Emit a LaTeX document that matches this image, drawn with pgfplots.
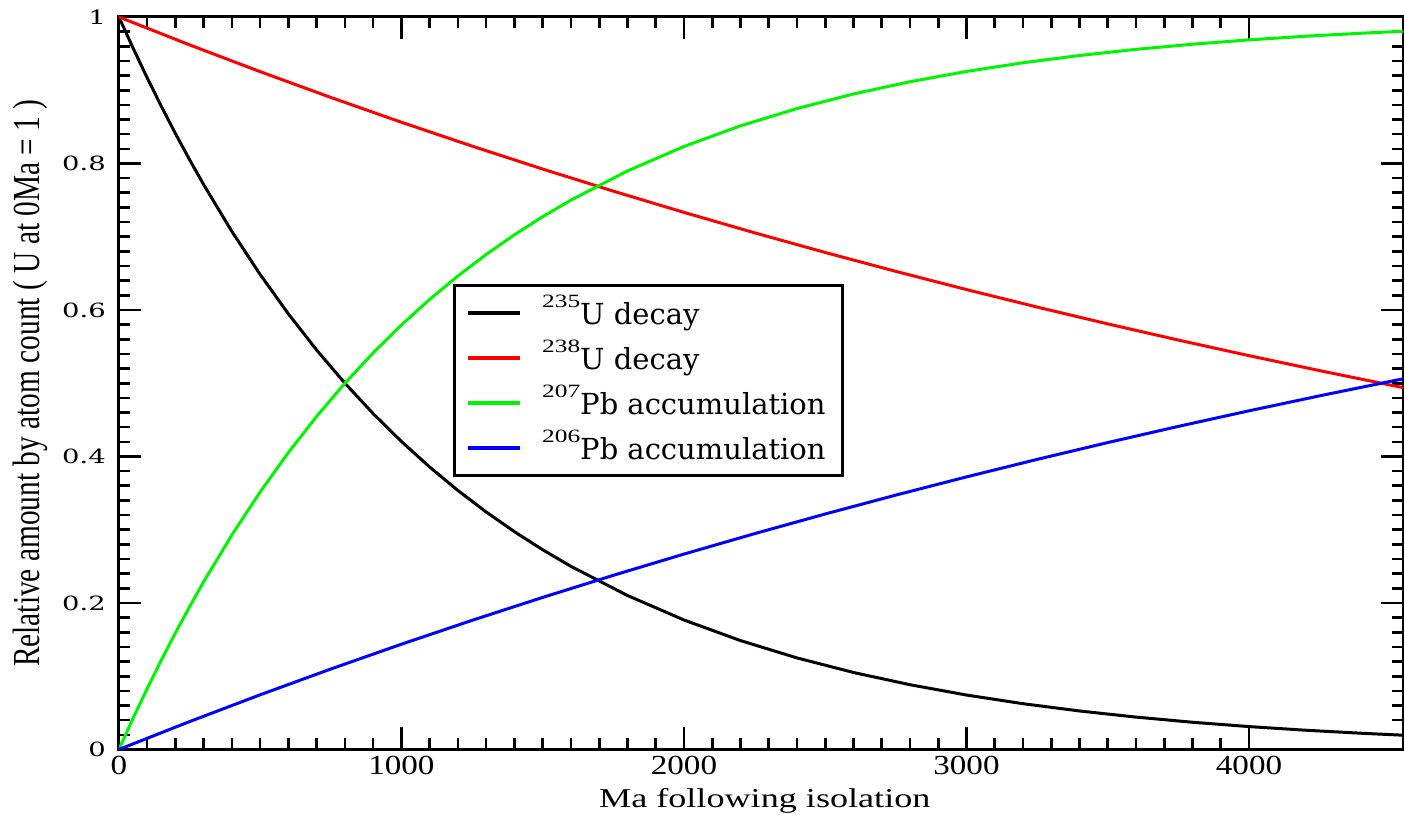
\documentclass[border=0pt]{standalone}
\usepackage{fontspec}
\usepackage{graphicx}
\usepackage{pgfplots}
\pgfplotsset{compat=1.18}
\setmainfont{Liberation Serif}
\newfontfamily\dvs{DejaVu Serif}
\newcommand\iso[1]{\raisebox{8.5pt}{\scalebox{1.35}[1]{\rmfamily\fontsize{9.4}{10}\selectfont #1}}}
\definecolor{cgreen}{RGB}{0,245,0}
\definecolor{cblue}{RGB}{0,0,255}
\definecolor{cred}{RGB}{255,0,0}
\begin{document}
\begin{tikzpicture}
\useasboundingbox (-59.5pt,-33pt) rectangle (643pt,375pt);
\begin{axis}[
  scale only axis, width=642.5pt, height=366.5pt,
  xmin=0, xmax=4545, ymin=0, ymax=1,
  axis line style={line width=1.5pt},
  tick align=inside,
  major tick length=11pt, minor tick length=5.5pt,
  every tick/.append style={black, line width=1.3pt},
  xtick={0,1000,2000,3000,4000}, minor x tick num=9,
  ytick={0,0.2,0.4,0.6,0.8,1}, minor y tick num=9,
  scaled ticks=false,
  /pgf/number format/assume math mode=true,
  /pgf/number format/1000 sep={},
  xticklabel={\scalebox{1.2}[1]{\fontsize{13.8}{14}\selectfont\pgfmathprintnumber{\tick}}},
  yticklabel={\scalebox{1.4}[1]{\dvs\fontsize{9.8}{10}\selectfont\pgfmathprintnumber{\tick}}},
  yticklabel style={xshift=-3pt},
  xlabel={\scalebox{1.33}[1]{\fontsize{13.6}{15}\selectfont Ma following isolation}},
  xlabel style={at={(axis description cs:0.503,-0.0698)}, anchor=center},
  ylabel={\scalebox{1}[1.3]{\fontsize{14.7}{16}\selectfont Relative amount by atom count ( U at 0Ma = 1 )}},
  ylabel style={at={(axis description cs:-0.0693,0.5)}, anchor=center},
  legend image code/.code={\draw[#1,line width=2pt] (0pt,0pt) -- (26pt,0pt);},
  legend cell align=left,
  legend style={at={(axis description cs:0.26,0.636)}, anchor=north west,
    draw=black, line width=1.5pt, inner xsep=6pt, inner ysep=4.25pt,
    font=\dvs\fontsize{14.5}{16}\selectfont,
    nodes={inner xsep=2.5pt, inner ysep=1pt, text height=14.5pt, text depth=3pt},
    row sep=3pt,
    /tikz/every odd column/.append style={column sep=7.5pt}},
]
\addplot[black, line width=1.5pt] coordinates {
(0,1) (50,0.95760) (100,0.91700) (150,0.87813) (200,0.84090) (250,0.80525)
(300,0.77110) (400,0.70711) (500,0.64842) (600,0.59460) (700,0.54525)
(800,0.5) (900,0.45850) (1000,0.42045) (1100,0.38555) (1200,0.35355)
(1300,0.32421) (1400,0.29730) (1500,0.27263) (1600,0.25) (1800,0.21022)
(2000,0.17678) (2200,0.14865) (2400,0.125) (2600,0.10511) (2800,0.08839)
(3000,0.07433) (3200,0.0625) (3400,0.05256) (3600,0.04419) (3800,0.03716)
(4000,0.03125) (4200,0.02628) (4400,0.02210) (4545,0.01949)};
\addlegendentry{\iso{235}U decay}
\addplot[cred, line width=1.5pt] coordinates {
(0,1) (250,0.96196) (500,0.92537) (750,0.89017) (1000,0.85630) (1250,0.82372)
(1500,0.79239) (1750,0.76224) (2000,0.73325) (2250,0.70535) (2500,0.67852)
(2750,0.65271) (3000,0.62788) (3250,0.60399) (3500,0.58101) (3750,0.55891)
(4000,0.53765) (4250,0.51720) (4500,0.49752) (4545,0.49406)};
\addlegendentry{\iso{238}U decay}
\addplot[cgreen, line width=1.5pt] coordinates {
(0,0) (50,0.04240) (100,0.08300) (150,0.12187) (200,0.15910) (250,0.19475)
(300,0.22890) (400,0.29289) (500,0.35158) (600,0.40540) (700,0.45475)
(800,0.5) (900,0.54150) (1000,0.57955) (1100,0.61445) (1200,0.64645)
(1300,0.67579) (1400,0.70270) (1500,0.72737) (1600,0.75) (1800,0.78978)
(2000,0.82322) (2200,0.85135) (2400,0.875) (2600,0.89489) (2800,0.91161)
(3000,0.92567) (3200,0.9375) (3400,0.94744) (3600,0.95581) (3800,0.96284)
(4000,0.96875) (4200,0.97372) (4400,0.97790) (4545,0.98051)};
\addlegendentry{\iso{207}Pb accumulation}
\addplot[cblue, line width=1.5pt] coordinates {
(0,0) (250,0.03804) (500,0.07463) (750,0.10983) (1000,0.14370) (1250,0.17628)
(1500,0.20761) (1750,0.23776) (2000,0.26675) (2250,0.29465) (2500,0.32148)
(2750,0.34729) (3000,0.37212) (3250,0.39601) (3500,0.41899) (3750,0.44109)
(4000,0.46235) (4250,0.48280) (4500,0.50248) (4545,0.50594)};
\addlegendentry{\iso{206}Pb accumulation}
\end{axis}
\end{tikzpicture}
\end{document}
